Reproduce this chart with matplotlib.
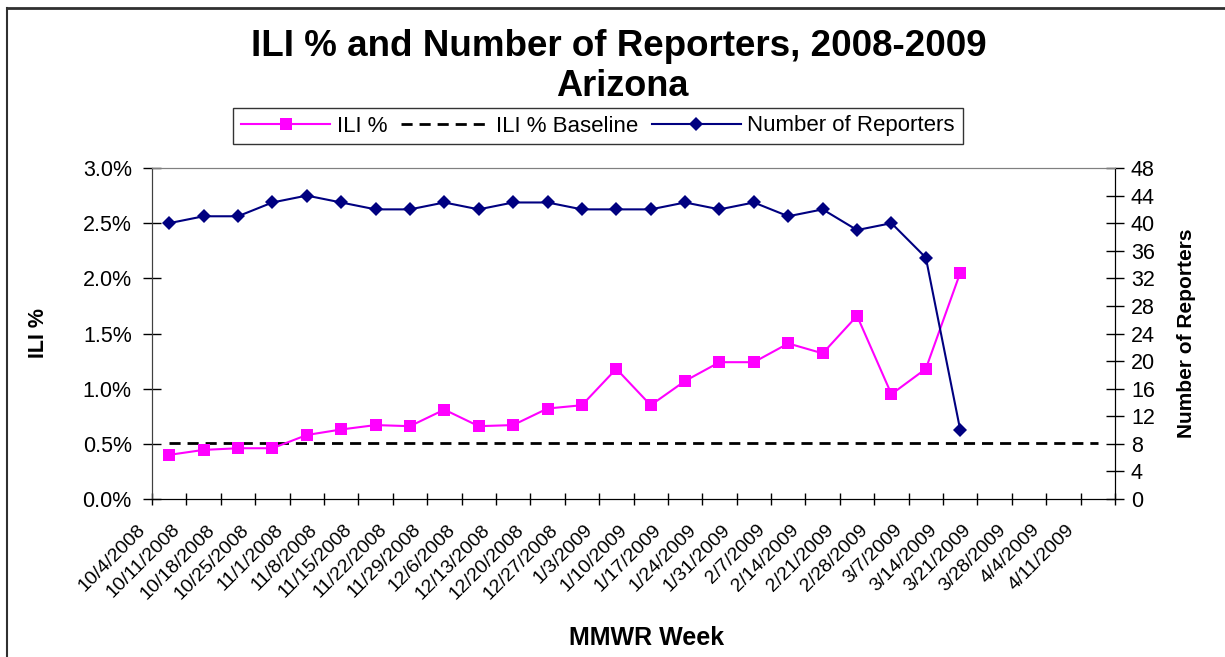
import numpy as np
import matplotlib
matplotlib.use('Agg')
import matplotlib.pyplot as plt
import matplotlib.transforms as mtransforms
from matplotlib.lines import Line2D
from matplotlib.ticker import FuncFormatter

plt.rcParams['font.family'] = ['Liberation Sans', 'DejaVu Sans']

weeks = ['10/4/2008', '10/11/2008', '10/18/2008', '10/25/2008', '11/1/2008',
         '11/8/2008', '11/15/2008', '11/22/2008', '11/29/2008', '12/6/2008',
         '12/13/2008', '12/20/2008', '12/27/2008', '1/3/2009', '1/10/2009',
         '1/17/2009', '1/24/2009', '1/31/2009', '2/7/2009', '2/14/2009',
         '2/21/2009', '2/28/2009', '3/7/2009', '3/14/2009', '3/21/2009',
         '3/28/2009', '4/4/2009', '4/11/2009']
ili_pct = [0.40, 0.445, 0.46, 0.46, 0.58, 0.63, 0.67, 0.66, 0.81, 0.66,
           0.67, 0.82, 0.85, 1.18, 0.85, 1.07, 1.24, 1.24, 1.41, 1.32,
           1.66, 0.95, 1.18, 2.05]
baseline = 0.51
reporters = [40, 41, 41, 43, 44, 43, 42, 42, 43, 42, 43, 43, 42, 42, 42,
             43, 42, 43, 41, 42, 39, 40, 35, 10]

W, H = 1225, 657
fig = plt.figure(figsize=(W/100, H/100), dpi=100)
ax = fig.add_axes([152/W, 1-499/H, (1115-152)/W, (499-168)/H])
ax2 = ax.twinx()

x = np.arange(len(weeks))
ax.plot(x, [baseline]*len(weeks), color='black', lw=2, dashes=(4, 2.5))
ax.plot(np.arange(len(ili_pct)), ili_pct, color='#FF00FF', lw=1.5,
        marker='s', markersize=8, markeredgewidth=0)
ax2.plot(np.arange(len(reporters)), reporters, color='#000080', lw=1.5,
         marker='D', markersize=7.5, markeredgewidth=0)

ax.set_xlim(-0.5, len(weeks)-0.5)
ax.set_ylim(0, 3.0)
ax2.set_ylim(0, 48)
ax.set_yticks(np.arange(0, 3.01, 0.5))
ax.yaxis.set_major_formatter(FuncFormatter(lambda v, p: '%.1f%%' % v))
ax2.set_yticks(np.arange(0, 49, 4))

# ticks on category boundaries, labels at category centres
ax.set_xticks(np.arange(-0.5, len(weeks), 1.0))
ax.set_xticklabels([])
ax.set_xticks(x, minor=True)
ax.set_xticklabels(weeks, minor=True, rotation=45, ha='right', fontsize=14)
ax.tick_params(axis='x', which='minor', length=0, pad=16)
ax.tick_params(axis='x', which='major', direction='inout', length=9, width=1)
offset = mtransforms.ScaledTranslation(-20/100, 0, fig.dpi_scale_trans)
for lab in ax.xaxis.get_minorticklabels():
    lab.set_transform(lab.get_transform() + offset)

ax.tick_params(axis='y', direction='inout', length=13, width=1, labelsize=15.5, pad=8)
ax2.tick_params(axis='y', direction='inout', length=13, width=1, labelsize=15.5, pad=5)

for a in (ax, ax2):
    a.spines['top'].set_color('#808080')
    a.spines['left'].set_color('#404040')
    a.spines['right'].set_color('black')
    a.spines['bottom'].set_color('black')

ax.set_ylabel('ILI %', fontsize=15.5, fontweight='bold', labelpad=24)
ax2.set_ylabel('Number of Reporters', fontsize=15, fontweight='bold', labelpad=16)
ax.set_xlabel('MMWR Week', fontsize=18, fontweight='bold')
ax.xaxis.set_label_coords(0.514, -0.385)

fig.text(619/W, 1-46/H, 'ILI % and Number of Reporters, 2008-2009',
         fontsize=26.5, fontweight='bold', ha='center', va='center')
fig.text(622/W, 1-87/H, 'Arizona', fontsize=26, fontweight='bold',
         ha='center', va='center')

handles = [Line2D([], [], color='#FF00FF', lw=1.5, marker='s', markersize=8, markeredgewidth=0),
           Line2D([], [], color='black', lw=2, dashes=(4, 2.5)),
           Line2D([], [], color='#000080', lw=1.5, marker='D', markersize=7.5, markeredgewidth=0)]
leg = fig.legend(handles, ['ILI %', 'ILI % Baseline', 'Number of Reporters'],
                 loc='center', bbox_to_anchor=(598/W, 1-126/H), ncol=3,
                 fontsize=16, frameon=True, fancybox=False, edgecolor='black',
                 handlelength=4.0, columnspacing=0.6, handletextpad=0.3,
                 borderpad=0.35)
leg.get_frame().set_linewidth(1)

# outer chart border (left and top visible)
fig.add_artist(Line2D([7/W, 7/W], [0, 1-8/H], color='#303030', lw=1.5, transform=fig.transFigure))
fig.add_artist(Line2D([7/W, 1], [1-8/H, 1-8/H], color='#303030', lw=2, transform=fig.transFigure))

plt.savefig('out.png', dpi=100)
